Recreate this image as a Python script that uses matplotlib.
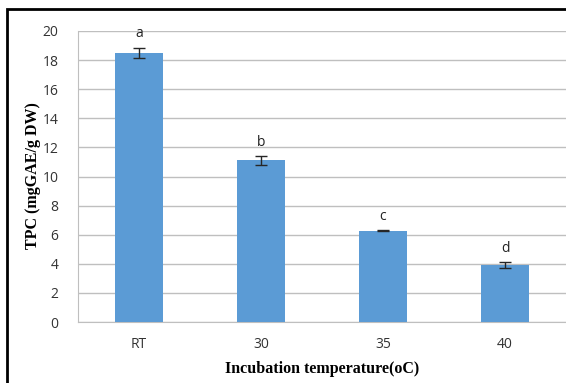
import matplotlib
matplotlib.use("Agg")
import matplotlib.pyplot as plt
from matplotlib.patches import Rectangle

temps = ["RT", "30", "35", "40"]
tpc = [18.5, 11.1, 6.27, 3.9]
err = [0.35, 0.3, 0.03, 0.2]
letters = ["a", "b", "c", "d"]

fig = plt.figure(figsize=(5.66, 3.83), dpi=100)
ax = fig.add_axes([78/566, 61/383, 488/566, 291/383])

x = range(len(temps))
ax.bar(x, tpc, width=0.4, color="#5B9BD5", zorder=3)
ax.errorbar(x, tpc, yerr=err, fmt="none", ecolor="#262626", elinewidth=1,
            capsize=4, capthick=1, zorder=4)
for i in x:
    ax.text(i, tpc[i] + err[i] + 0.45, letters[i], ha="center", va="bottom",
            fontsize=10, family="Open Sans", color="#222222")

ax.set_xlim(-0.5, 3.5)
ax.set_ylim(0, 20)
ax.set_yticks(range(0, 21, 2))
ax.set_xticks(list(x))
ax.set_xticklabels(temps)
ax.yaxis.grid(True, color="#BFBFBF", linewidth=1)
ax.set_axisbelow(True)
for s in ["top", "right"]:
    ax.spines[s].set_visible(False)
ax.spines["left"].set_color("#BFBFBF")
ax.spines["bottom"].set_color("#BFBFBF")
ax.tick_params(axis="both", length=0, labelsize=10, colors="#333333")
ax.tick_params(axis="y", pad=14)
ax.tick_params(axis="x", pad=11)
for lab in ax.get_xticklabels() + ax.get_yticklabels():
    lab.set_family("Open Sans")

ax.set_xlabel("Incubation temperature(oC)", family="Liberation Serif",
              fontweight="bold", fontsize=11.5, labelpad=6)
fig.text(33/566, 1 - 176/383, "TPC (mgGAE/g DW)", family="Liberation Serif",
         fontweight="bold", fontsize=11.5, rotation=90, ha="center", va="center")

# outer frame
fig.patches.append(Rectangle((7/566, -0.05), 1.1, 1 - 9/383 + 0.05,
                             transform=fig.transFigure, fill=False,
                             edgecolor="black", linewidth=2, zorder=10))

fig.savefig("out.png", dpi=100)
